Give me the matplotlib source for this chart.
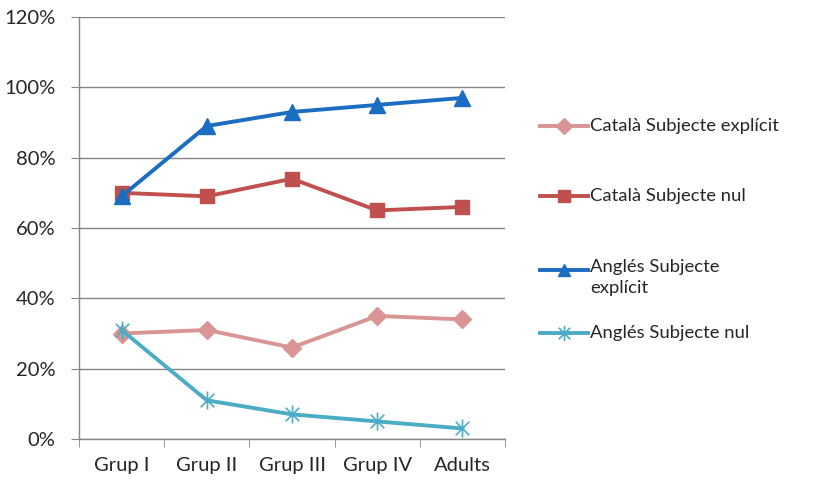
import matplotlib
matplotlib.use("Agg")
import matplotlib.pyplot as plt
from matplotlib.lines import Line2D
from matplotlib.path import Path
from matplotlib.ticker import FixedLocator, PercentFormatter

plt.rcParams['font.family'] = ['Lato', 'DejaVu Sans']

categories = ["Grup I", "Grup II", "Grup III", "Grup IV", "Adults"]
cat_expl = [30, 31, 26, 35, 34]
cat_nul = [70, 69, 74, 65, 66]
ang_expl = [69, 89, 93, 95, 97]
ang_nul = [31, 11, 7, 5, 3]
labels = ["Català Subjecte explícit", "Català Subjecte nul",
          "Anglés Subjecte\nexplícit", "Anglés Subjecte nul"]

asterisk = Path([(0, -1), (0, 1), (-0.75, -0.75), (0.75, 0.75), (-0.75, 0.75), (0.75, -0.75)],
                [Path.MOVETO, Path.LINETO, Path.MOVETO, Path.LINETO, Path.MOVETO, Path.LINETO])

styles = [
    dict(color="#D99594", marker="D", markersize=9, mec="#D99594", mfc="#D99594", mew=1),
    dict(color="#C0504D", marker="s", markersize=10, mec="#C0504D", mfc="#C0504D", mew=1),
    dict(color="#1A6DC0", marker="^", markersize=11, mec="#1A6DC0", mfc="#1A6DC0", mew=1),
    dict(color="#4BACC6", marker=asterisk, markersize=13, mec="#4BACC6", mfc="none", mew=1.2),
]
series = [cat_expl, cat_nul, ang_expl, ang_nul]
text_color = "#262626"

fig = plt.figure(figsize=(8.14, 4.82), dpi=100)
ax = fig.add_axes([79/814, 1-439/482, (505-79)/814, (439-17)/482])

x = list(range(len(categories)))
for vals, st in zip(series, styles):
    ax.plot(x, vals, lw=2.8, solid_joinstyle="round", zorder=3, **st)

ax.set_xlim(-0.5, 4.5)
ax.set_ylim(0, 120)
ax.set_yticks(range(0, 121, 20))
ax.yaxis.set_major_formatter(PercentFormatter(decimals=0))
ax.yaxis.grid(True, color="#868686", lw=1)
ax.set_axisbelow(True)
ax.set_xticks(x)
ax.set_xticklabels(categories)
ax.xaxis.set_minor_locator(FixedLocator([i - 0.5 for i in range(len(categories) + 1)]))
ax.tick_params(axis="x", which="major", length=0, pad=13, labelsize=14.5, colors=text_color)
ax.tick_params(axis="x", which="minor", length=6, color="#868686", direction="out")
ax.tick_params(axis="y", length=6, color="#868686", pad=11, labelsize=14.5, labelcolor=text_color)
for s in ["top", "right"]:
    ax.spines[s].set_visible(False)
for s in ["left", "bottom"]:
    ax.spines[s].set_color("#868686")
    ax.spines[s].set_linewidth(1)

# legend (manually positioned, as in the reference)
leg_y = [126, 196, 270, 333]
for ly, lab, st in zip(leg_y, labels, styles):
    yf = 1 - ly / 482
    fig.add_artist(Line2D([540/814, 588/814], [yf, yf], lw=2.8, color=st["color"],
                          transform=fig.transFigure))
    fig.add_artist(Line2D([564/814], [yf], lw=0, transform=fig.transFigure,
                          marker=st["marker"], markersize=st["markersize"] * 0.85,
                          mec=st["mec"], mfc=st["mfc"], mew=st["mew"]))
    if "\n" in lab:
        fig.text(590/814, yf + 11/482, lab, ha="left", va="top", fontsize=13.3,
                 linespacing=1.4, color=text_color)
    else:
        fig.text(590/814, yf, lab, ha="left", va="center", fontsize=13.3, color=text_color)

fig.savefig("out.png", dpi=100)
